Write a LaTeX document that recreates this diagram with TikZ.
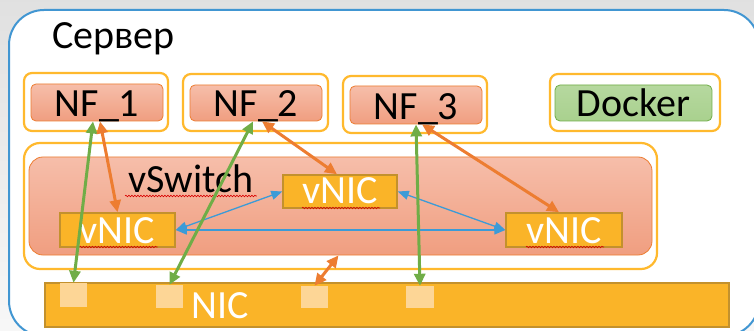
\documentclass[tikz,border=0pt]{standalone}
\usepackage{fontspec}
\setmainfont{Carlito}
\usetikzlibrary{arrows.meta,decorations.pathmorphing}

\definecolor{srvblue}{RGB}{65,150,210}
\definecolor{frameorange}{RGB}{255,185,45}
\definecolor{nfline}{RGB}{237,125,49}
\definecolor{nftop}{RGB}{246,190,170}
\definecolor{nfbottom}{RGB}{240,158,128}
\definecolor{nicfill}{RGB}{250,180,40}
\definecolor{nicline}{RGB}{195,145,45}
\definecolor{portfill}{RGB}{253,214,150}
\definecolor{dockfill}{RGB}{169,209,142}
\definecolor{dockline}{RGB}{112,173,71}
\definecolor{linkgreen}{RGB}{112,173,71}
\definecolor{linkorange}{RGB}{237,125,49}
\definecolor{linkblue}{RGB}{60,155,215}

\newcommand{\bigfont}{\fontsize{40}{44}\selectfont}

\tikzset{
	nfframe/.style={draw=frameorange, line width=2.2pt, rounded corners=8pt, fill=white, inner sep=0pt},
	nfbox/.style={draw=nfline, line width=0.8pt, rounded corners=5pt, top color=nftop, bottom color=nfbottom, inner sep=0pt, text depth=4pt, font=\bigfont},
	dockbox/.style={nfbox, draw=dockline, top color=dockfill!85!white, bottom color=dockfill},
	vnicbox/.style={draw=nicline, line width=1.5pt, fill=nicfill, inner sep=0pt, text depth=4pt, text=white, font=\bigfont},
	nicbox/.style={draw=nicline, line width=1.5pt, fill=nicfill, inner sep=0pt},
	portbox/.style={fill=portfill, inner sep=0pt},
	datalink/.style={draw=linkgreen, line width=3pt, {Triangle[length=12pt,width=11pt]}-{Triangle[length=12pt,width=11pt]}},
	ctrllink/.style={draw=linkorange, line width=3pt, {Triangle[length=12pt,width=11pt]}-{Triangle[length=12pt,width=11pt]}},
	swlink/.style={draw=linkblue, line width=1.3pt, {Triangle[length=11pt,width=9pt]}-{Triangle[length=11pt,width=9pt]}},
	squiggle/.style={draw=red!85!black, line width=0.6pt, decorate, decoration={snake, amplitude=0.8pt, segment length=3pt}}
}

\begin{document}
\begin{tikzpicture}[x=1pt, y=-1pt]
	% Canvas
	\useasboundingbox[top color=black!12, bottom color=black!3] (0,0) rectangle (754,331);
	
	% Server frame
	\draw[draw=srvblue, line width=2pt, fill=white, rounded corners=35pt] (9,10) rectangle (759,336);
	\node[anchor=base west, font=\bigfont] (srvlabel) at (49,49) {Сервер};
	
	% Network functions and their frames
	\node[nfframe, minimum width=144pt, minimum height=58pt] (nf1frame) at (96,102) {};
	\node[nfframe, minimum width=145pt, minimum height=57pt] (nf2frame) at (255.5,102.5) {};
	\node[nfframe, minimum width=144pt, minimum height=57pt] (nf3frame) at (415,104.5) {};
	\node[nfframe, minimum width=170pt, minimum height=57pt] (dockframe) at (635,102.5) {};
	
	\node[nfbox, minimum width=132pt, minimum height=37pt, text height=33pt] (nf1) at (97,102.5) {NF\_1};
	\node[nfbox, minimum width=132pt, minimum height=36pt, text height=32pt] (nf2) at (256,103) {NF\_2};
	\node[nfbox, minimum width=132pt, minimum height=38pt, text height=34pt] (nf3) at (416,105) {NF\_3};
	\node[dockbox, minimum width=157pt, minimum height=36pt, text height=32pt] (docker) at (633.5,103) {Docker};
	
	% Virtual switch
	\node[nfframe, rounded corners=16pt, minimum width=633pt, minimum height=126pt] (vswframe) at (340.5,206) {};
	\node[nfbox, rounded corners=14pt, minimum width=623pt, minimum height=98pt] (vsw) at (340.5,206) {};
	\node[anchor=base west, font=\bigfont] (vswlabel) at (125,193) {vSwitch};
	\draw[squiggle] ([yshift=-3pt]vswlabel.base west) -- ([yshift=-3pt]vswlabel.base east);
	
	% vNICs
	\node[vnicbox, minimum width=115pt, minimum height=34pt, text height=30pt] (vnic1) at (117.5,230) {vNIC};
	\node[vnicbox, minimum width=114pt, minimum height=33pt, text height=29pt] (vnic2) at (340,191.5) {vNIC};
	\node[vnicbox, minimum width=116pt, minimum height=34pt, text height=30pt] (vnic3) at (564,230) {vNIC};
	\foreach \v in {vnic1,vnic2,vnic3}
		\draw[squiggle] ([xshift=-38pt,yshift=-4pt]\v.base) -- ([xshift=40pt,yshift=-4pt]\v.base);
	
	% Physical NIC with its ports
	\node[nicbox, minimum width=684pt, minimum height=44pt] (nic) at (387,305) {};
	\node[anchor=base west, font=\bigfont, text=white] (niclabel) at (188,318) {NIC};
	\node[portbox, minimum width=27pt, minimum height=24pt] (sq1) at (73.5,295) {};
	\node[portbox, minimum width=27pt, minimum height=23pt] (sq2) at (169.5,296.5) {};
	\node[portbox, minimum width=27pt, minimum height=22pt] (sq3) at (314.5,297) {};
	\node[portbox, minimum width=28pt, minimum height=22pt] (sq4) at (420,297) {};
	
	% Links between vNICs
	\draw[swlink] (vnic1.east) -- (vnic3.west);
	\draw[swlink] (vnic1.east) -- (vnic2.west);
	\draw[swlink] (vnic2.east) -- (vnic3.west);
	
	% Direct links to NIC ports
	\draw[datalink] ([xshift=-4pt]nf1.south) -- (sq1.north);
	\draw[datalink] ([xshift=-3pt]nf2.south) -- (sq2.north);
	\draw[datalink] (nf3.south) -- (sq4.north);
	
	% Links through the vSwitch
	\draw[ctrllink] ([xshift=3pt]nf1.south) -- (vnic1.north);
	\draw[ctrllink] ([xshift=6pt]nf2.south) -- ([xshift=-3pt]vnic2.north);
	\draw[ctrllink] ([xshift=6pt]nf3.south) -- ([xshift=-5pt]vnic3.north);
	\draw[ctrllink] ([xshift=-2pt]vsw.south) -- (sq3.north);
	
\end{tikzpicture}
\end{document}
